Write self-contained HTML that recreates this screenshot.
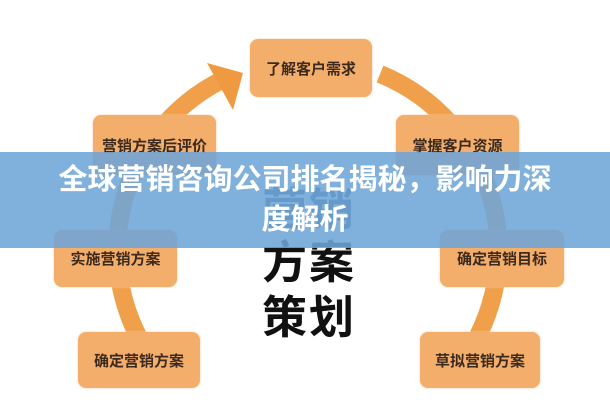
<!DOCTYPE html>
<html style="overflow:hidden;height:400px"><head><meta charset="utf-8"><style>
html,body{margin:0;width:610px;height:400px;overflow:hidden}
body{background:#fff;font-family:"Liberation Sans","Noto Sans CJK SC",sans-serif;position:relative}
.b{position:absolute;background:#f4ae6c;border-radius:8px;box-shadow:0 0 2px #f8cfa6;display:flex;align-items:center;justify-content:center;font-weight:bold;font-size:15px;color:#3b2a1d}
.big{position:absolute;left:262px;font-size:45px;line-height:50px;font-weight:bold;color:#111;letter-spacing:2px}
#ban{position:absolute;left:0;top:152px;width:610px;height:96px;background:rgba(110,165,215,0.88);color:#fff;font-weight:bold;font-size:29px;text-align:center;line-height:40px;padding-top:8px;box-sizing:border-box}
</style></head><body>
<svg width="610" height="400" style="position:absolute;left:0;top:0;display:block">
<path d="M169,380 A190,190 0 0 1 222,80" fill="none" stroke="#f0a04a" stroke-width="18"/>
<path d="M380,74 A190,190 0 0 1 447,380" fill="none" stroke="#f0a04a" stroke-width="18"/>
<polygon points="243,73 207,63 233,110" fill="#ef9a40"/>
</svg>
<div class="big" style="top:238px">方案</div>
<div class="big" style="top:293px">策划</div>
<div class="big" style="top:185px;color:#2f4a6a">营销</div>
<div class="b" style="left:250px;top:39px;width:122px;height:58px">了解客户需求</div>
<div class="b" style="left:93px;top:115px;width:123px;height:60px">营销方案后评价</div>
<div class="b" style="left:396px;top:115px;width:123px;height:60px">掌握客户资源</div>
<div class="b" style="left:54px;top:230px;width:123px;height:57px">实施营销方案</div>
<div class="b" style="left:440px;top:230px;width:124px;height:57px">确定营销目标</div>
<div class="b" style="left:78px;top:332px;width:122px;height:56px">确定营销方案</div>
<div class="b" style="left:420px;top:332px;width:120px;height:56px">草拟营销方案</div>
<div id="ban">全球营销咨询公司排名揭秘，影响力深<br>度解析</div>
</body></html>
